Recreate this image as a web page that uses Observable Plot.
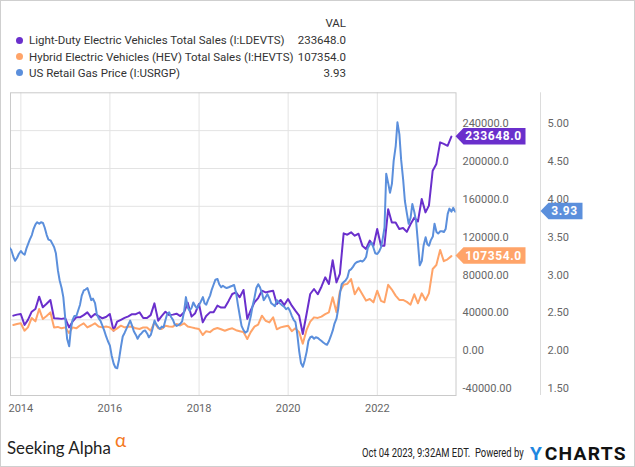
<!DOCTYPE html>
<html><head><meta charset="utf-8">
<script src="https://cdn.jsdelivr.net/npm/d3@7"></script>
<script src="https://cdn.jsdelivr.net/npm/@observablehq/plot@0.6"></script>
<style>
html,body{margin:0;padding:0;background:#fff;}
#page{position:relative;width:635px;height:467px;overflow:hidden;font-family:Roboto,sans-serif;background:#fff;}
#frameborder{position:absolute;left:0;top:0;width:635px;height:467px;box-sizing:border-box;border:1px solid #cfcfcf;pointer-events:none;}
.lg{position:absolute;font-size:11.5px;color:#333;white-space:nowrap;line-height:14px;height:14px;}
.dot{position:absolute;width:7px;height:7px;border-radius:50%;}
#chart{position:absolute;left:0;top:80px;}
#footer{position:absolute;left:0;top:424px;}
</style></head>
<body><div id="page"><div id="legend"></div><div id="chart"></div><svg id="footer" width="635" height="42"></svg><div id="frameborder"></div></div>
<script>
// ---------- data ----------
const seriesNames = [
  "Light-Duty Electric Vehicles Total Sales (I:LDEVTS)",
  "Hybrid Electric Vehicles (HEV) Total Sales (I:HEVTS)",
  "US Retail Gas Price (I:USRGP)"
];
const seriesLast = ["233648.0", "107354.0", "3.93"];
const lastValues = [233648, 107354, 3.93];
const legendHeader = "VAL";

// monthly, Oct 2013 .. Aug 2023 (thousands of units)
const ldevts = [
  44.4, 45.5, 46.2,
  34.6, 40, 48.6, 51.5, 64.5, 53.2, 57, 61, 41.6, 41.5, 41, 41.6,
  32, 38, 42.6, 42.6, 45, 47.9, 42.6, 46.2, 44, 41.6, 43, 46.2,
  28.5, 38, 40, 42, 43.7, 46, 46, 47.9, 42, 42, 45, 57.4,
  39.1, 44, 48.6, 45, 45.5, 46.5, 44, 48, 58, 43.4, 47, 56.8,
  37.3, 44, 47.9, 48, 55, 53, 53, 60, 67.3, 69, 63.8, 71.6,
  41, 50, 58.5, 63, 70.8, 69, 70, 70.8, 56.7, 61, 55.7, 62,
  55, 49.7, 44.4, 25, 46.2, 67.3, 72.6, 67, 75, 84.9, 77.9, 103,
  79.6, 88.5, 131.4, 130, 132.5, 129, 131, 118.4, 115, 123.7, 118, 136,
  118.4, 118.4, 157, 143, 143, 136, 137, 133, 141, 148, 144, 167.8,
  153.6, 160.7, 197.7, 204.8, 227.6, 226, 224, 233.648
];
const hevts = [
  34.6, 35.5, 36.3,
  28.5, 32, 42, 38.4, 51.5, 40.9, 44, 47.9, 32, 32.5, 31, 32,
  26, 32, 31, 34, 36.3, 32, 34, 36.3, 33, 32, 33, 32,
  28.5, 31, 33.8, 32, 33, 32.8, 31, 30.3, 32, 32, 28.5, 37.3,
  31, 30.3, 33.8, 33, 32.8, 35.6, 34, 36.3, 33, 32, 31, 30.3,
  24, 28, 27, 30, 31.4, 30, 28.5, 30, 31, 29, 28, 27,
  19.7, 27, 32.8, 35, 44.4, 39, 37.3, 42.6, 30, 32, 33, 33.8,
  28, 31, 27, 14.8, 29.3, 38, 42.6, 42, 43.4, 46, 47.9, 63.8,
  47.9, 70, 77, 78, 83, 67, 74, 67, 60.3, 62, 58.5, 70.8,
  60, 58.5, 77, 72, 65.6, 61, 61, 59, 56, 67, 57.5, 68,
  60.7, 68, 93.7, 98, 113.9, 102, 104, 107.354
];
// semi-monthly (1st and 15th), Oct 1 2013 .. Oct 1 2023, USD/gal
const gasPrice = [
  3.45, 3.42, 3.33, 3.28, 3.32, 3.37,
  3.41, 3.38, 3.36, 3.44, 3.50, 3.56, 3.62, 3.70, 3.76, 3.79, 3.77, 3.79, 3.78, 3.72, 3.62, 3.56, 3.55, 3.51, 3.46, 3.38, 3.15, 3.02, 2.92, 2.80,
  2.50, 2.25, 2.15, 2.38, 2.50, 2.55, 2.55, 2.62, 2.70, 2.82, 2.89, 2.90, 2.92, 2.85, 2.76, 2.78, 2.72, 2.58, 2.52, 2.49, 2.42, 2.36, 2.28, 2.22,
  2.16, 2.03, 1.92, 1.87, 1.86, 1.97, 2.15, 2.28, 2.33, 2.38, 2.44, 2.49, 2.42, 2.35, 2.30, 2.25, 2.30, 2.32, 2.35, 2.36, 2.32, 2.27, 2.30, 2.38,
  2.49, 2.44, 2.40, 2.38, 2.41, 2.40, 2.50, 2.58, 2.60, 2.54, 2.50, 2.44, 2.42, 2.43, 2.45, 2.48, 2.62, 2.80, 2.66, 2.62, 2.66, 2.73, 2.68, 2.65,
  2.70, 2.74, 2.80, 2.72, 2.70, 2.76, 2.82, 2.90, 2.97, 3.03, 3.04, 2.97, 2.93, 2.95, 2.93, 2.92, 2.93, 2.94, 2.95, 2.96, 2.85, 2.70, 2.55, 2.42,
  2.36, 2.33, 2.35, 2.45, 2.55, 2.68, 2.80, 2.92, 2.97, 2.93, 2.85, 2.76, 2.80, 2.84, 2.78, 2.72, 2.70, 2.68, 2.76, 2.73, 2.71, 2.69, 2.67, 2.64,
  2.66, 2.62, 2.55, 2.50, 2.47, 2.32, 2.08, 1.93, 1.88, 1.96, 2.08, 2.22, 2.27, 2.28, 2.25, 2.27, 2.26, 2.24, 2.22, 2.20, 2.18, 2.17, 2.22, 2.28,
  2.36, 2.45, 2.52, 2.65, 2.85, 2.97, 3.00, 3.02, 3.06, 3.15, 3.17, 3.20, 3.24, 3.26, 3.27, 3.28, 3.27, 3.29, 3.33, 3.45, 3.50, 3.52, 3.45, 3.38,
  3.37, 3.40, 3.46, 3.58, 3.72, 4.43, 4.30, 4.18, 4.30, 4.60, 4.80, 5.11, 4.95, 4.62, 4.35, 4.07, 3.90, 3.77, 3.85, 4.03, 3.92, 3.80, 3.50, 3.22,
  3.28, 3.48, 3.59, 3.50, 3.48, 3.55, 3.60, 3.77, 3.66, 3.64, 3.67, 3.67, 3.66, 3.70, 3.90, 3.97, 3.93, 3.98, 3.93
];
const salesTicks = [-40000, 0, 40000, 80000, 120000, 160000, 200000, 240000];
const gasTicks = [1.5, 2.0, 2.5, 3.0, 3.5, 4.0, 4.5, 5.0];
const yearTicks = [2014, 2016, 2018, 2020, 2022];
const footerLeft = "Seeking Alpha";
const footerAlpha = "α";
const footerStamp = "Oct 04 2023, 9:32AM EDT.  Powered by";
const logoY = "Y", logoRest = "CHARTS";

// ---------- styles ----------
const colors = ["#6a2fcc", "#ffa469", "#5b8fdc"];

// ---------- build tables ----------
const monthEnd = i => new Date(Date.UTC(2013, 10 + i, 0));
const toAxis = p => (p - 2) * 80000;   // gas price mapped onto the sales axis
const evData = ldevts.map((v, i) => ({date: monthEnd(i), value: v * 1000}));
const hevData = hevts.map((v, i) => ({date: monthEnd(i), value: v * 1000}));
const gasData = gasPrice.map((p, k) => ({date: new Date(Date.UTC(2013, 9 + Math.floor(k / 2), k % 2 ? 15 : 1)), value: toAxis(p)}));
const yearDates = yearTicks.map(y => new Date(Date.UTC(y, 0, 1)));
const fmtSales = v => Math.abs(v) >= 100000 ? v.toFixed(1) : v.toFixed(2);

// ---------- legend ----------
const legend = document.getElementById("legend");
function addDiv(cls, css, text) {
  const d = document.createElement("div");
  d.className = cls; d.style.cssText = css; if (text != null) d.textContent = text;
  legend.appendChild(d); return d;
}
addDiv("lg", "right:289px;top:16px;", legendHeader);
const rowY = [40, 56.5, 72.5];
seriesNames.forEach((n, i) => {
  addDiv("dot", `left:15.5px;top:${rowY[i] - 3.5}px;background:${colors[i]};`);
  addDiv("lg", `left:29px;top:${rowY[i] - 7}px;`, n);
  addDiv("lg", `right:289px;top:${rowY[i] - 7}px;`, seriesLast[i]);
});

// ---------- chart ----------
const flagSpecs = [
  {y: lastValues[0], label: seriesLast[0], color: colors[0], tip: 0, w: 62},
  {y: lastValues[1], label: seriesLast[1], color: colors[1], tip: 0, w: 62},
  {y: toAxis(lastValues[2]), label: seriesLast[2], color: colors[2], tip: 85, w: 34}
];
function separator(index, scales, values, dims) {
  const x = dims.width - dims.marginRight + 85;
  const g = d3.create("svg:line")
    .attr("x1", x).attr("x2", x)
    .attr("y1", dims.marginTop).attr("y2", dims.height - dims.marginBottom)
    .attr("stroke", "#dcdcdc");
  return g.node();
}
function flags(index, scales, values, dims) {
  const g = d3.create("svg:g");
  const right = dims.width - dims.marginRight;
  for (const f of flagSpecs) {
    const y = scales.y(f.y), h = 16.5, n = 8;
    const xt = right + f.tip;
    g.append("path")
      .attr("d", `M${xt},${y}L${xt + n},${y - h / 2}H${xt + n + f.w}V${y + h / 2}H${xt + n}Z`)
      .attr("fill", f.color);
    g.append("text")
      .attr("x", xt + n + f.w / 2 - 1).attr("y", y).attr("dy", "0.36em")
      .attr("text-anchor", "middle").attr("fill", "#fff")
      .attr("font-weight", "bold").attr("font-size", 12).attr("letter-spacing", "0.6px")
      .text(f.label);
  }
  return g.node();
}

const chart = Plot.plot({
  width: 635, height: 345,
  marginLeft: 10, marginRight: 179.5, marginTop: 12.3, marginBottom: 30,
  style: {fontFamily: "Roboto, sans-serif", fontSize: "11px", background: "transparent", color: "#666"},
  x: {type: "utc", domain: [new Date(Date.UTC(2013, 9, 8)), new Date(Date.UTC(2023, 9, 8))], label: null},
  y: {domain: [-40000, 280000], label: null},
  marks: [
    Plot.gridY(salesTicks, {stroke: "#e3e3e3", strokeOpacity: 1}),
    Plot.gridX(yearDates, {stroke: "#e3e3e3", strokeOpacity: 1}),
    Plot.frame({stroke: "#cacaca"}),
    Plot.axisX(yearDates, {tickSize: 0, tickPadding: 9, tickFormat: d => String(d.getUTCFullYear()), fill: "#666", label: null}),
    Plot.axisY(salesTicks, {anchor: "right", tickSize: 0, tickPadding: 6.5, dy: -7, tickFormat: fmtSales, fill: "#666", label: null}),
    Plot.axisY(gasTicks.map(toAxis), {anchor: "right", tickSize: 0, tickPadding: 91.5, dy: -7, tickFormat: v => (v / 80000 + 2).toFixed(2), fill: "#666", label: null}),
    separator,
    Plot.line(evData, {x: "date", y: "value", stroke: colors[0], strokeWidth: 2, clip: true}),
    Plot.line(hevData, {x: "date", y: "value", stroke: colors[1], strokeWidth: 2, clip: true}),
    Plot.line(gasData, {x: "date", y: "value", stroke: colors[2], strokeWidth: 2, clip: true}),
    flags
  ]
});
document.getElementById("chart").appendChild(chart);

// ---------- footer ----------
const f = d3.select("#footer");
const oy = 6; // footer svg starts at y=424
// fit a text element to a target width by horizontal scaling (keeps bbox true)
function fitText(sel, x, y, width) {
  const natural = sel.node().getComputedTextLength();
  const s = width / natural;
  sel.attr("x", 0).attr("y", 0).attr("transform", `translate(${x},${y}) scale(${s},1)`);
}
const sa = f.append("text").attr("font-family", "Lato, sans-serif").attr("font-size", 17)
  .attr("fill", "#222").text(footerLeft);
fitText(sa, 7, 24 + oy, 104);
f.append("text").attr("x", 115).attr("y", 16.5 + oy).attr("font-family", "Lato, sans-serif").attr("font-size", 19)
  .attr("fill", "#f47a1f").text(footerAlpha);
const st = f.append("text").attr("font-family", "Roboto, sans-serif").attr("font-size", 12.5)
  .attr("fill", "#222").style("white-space", "pre").text(footerStamp);
fitText(st, 362, 27.3 + oy, 162);
const logo = f.append("text").attr("font-family", "Roboto, sans-serif").attr("font-size", 18.5)
  .attr("font-weight", "bold").attr("letter-spacing", "1.2px");
logo.append("tspan").attr("fill", "#1f86e0").text(logoY);
logo.append("tspan").attr("fill", "#111").attr("dx", 1.5).text(logoRest);
fitText(logo, 530, 30 + oy, 95);
</script>
</body></html>
